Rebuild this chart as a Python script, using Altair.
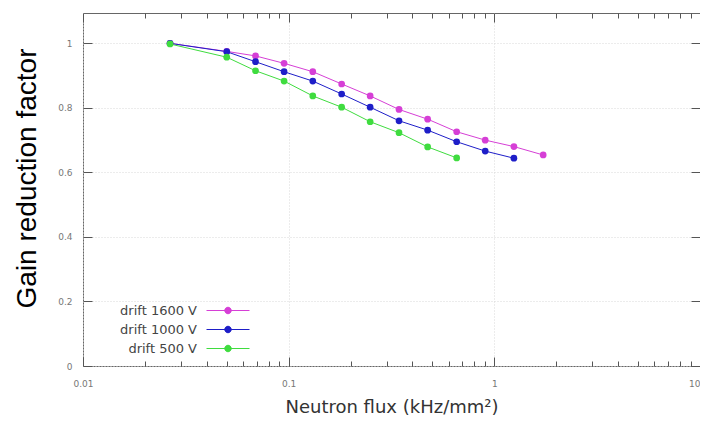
import altair as alt
import pandas as pd

series_names = ["drift 1600 V", "drift 1000 V", "drift 500 V"]
series_colors = ["#d63fd6", "#1e1ec8", "#3fdc3f"]

flux_1600 = [0.0265, 0.050, 0.069, 0.095, 0.131, 0.181, 0.249, 0.344, 0.474, 0.656, 0.903, 1.245, 1.728]
gain_1600 = [1.0, 0.975, 0.961, 0.938, 0.912, 0.874, 0.837, 0.795, 0.765, 0.726, 0.700, 0.680, 0.654]

flux_1000 = [0.0265, 0.050, 0.069, 0.095, 0.131, 0.181, 0.249, 0.344, 0.474, 0.656, 0.903, 1.245]
gain_1000 = [1.0, 0.974, 0.943, 0.912, 0.883, 0.843, 0.802, 0.760, 0.731, 0.695, 0.666, 0.644]

flux_500 = [0.0265, 0.050, 0.069, 0.095, 0.131, 0.181, 0.249, 0.344, 0.474, 0.656]
gain_500 = [0.998, 0.957, 0.915, 0.883, 0.837, 0.802, 0.757, 0.723, 0.679, 0.645]

x_major = [0.01, 0.1, 1, 10]
x_minor = [m * d for d in (0.01, 0.1, 1) for m in range(2, 10)]
y_major = [0, 0.2, 0.4, 0.6, 0.8, 1.0]

rows = []
for name, xs, ys in [(series_names[0], flux_1600, gain_1600),
                     (series_names[1], flux_1000, gain_1000),
                     (series_names[2], flux_500, gain_500)]:
    for xv, yv in zip(xs, ys):
        rows.append({"flux": xv, "gain": yv, "series": name})
df = pd.DataFrame(rows)

xscale = alt.Scale(type="log", domain=[0.01, 10], nice=False)
yscale = alt.Scale(domain=[0, 1.094], nice=False, zero=False)
cscale = alt.Scale(domain=series_names, range=series_colors)

TICK = "#555555"
LAB = "#777777"

# legend sample: a short line with a dot, drawn to the right of the label
sym_path = "M3.2,0L11.8,0M8.15,0A0.65,0.65,0,1,1,6.85,0A0.65,0.65,0,1,1,8.15,0Z"

legend = alt.Legend(
    title=None, orient="none", legendX=101, legendY=291,
    symbolType=sym_path, symbolSize=100, symbolStrokeWidth=1,
    symbolOffset=0, labelOffset=0,
    labelAlign="right", labelFont="DejaVu Sans",
    labelFontSize=13, labelColor="#444444", padding=0, rowPadding=5,
    symbolOpacity=1,
)

x_label_axis = alt.Axis(
    values=x_major, format="~g", ticks=False, tickSize=0, domain=False,
    grid=True, gridColor="#d8d8d8", gridDash=[1, 2], labelFlush=False,
    labelAlign=alt.condition("datum.value >= 10", alt.value("right"), alt.value("center")),
    labelFont="DejaVu Sans", labelFontSize=9, labelColor=LAB, labelPadding=13,
    title="Neutron flux (kHz/mm²)", titleFont="DejaVu Sans", titleFontSize=18,
    titleFontWeight="normal", titleColor="#333333",
    titleBaseline="alphabetic", titleY=46,
)
y_label_axis = alt.Axis(
    values=y_major, format="~g", ticks=False, tickSize=0, domain=False,
    grid=True, gridColor="#d8d8d8", gridDash=[1, 2], labelFlush=False,
    labelFont="DejaVu Sans", labelFontSize=9, labelColor=LAB, labelPadding=11,
    title="Gain reduction factor", titleFont="Liberation Sans", titleFontSize=28,
    titleFontWeight="normal", titleColor="#000000",
    titleBaseline="alphabetic", titleX=-48, titleY=165,
)

lines = alt.Chart(df).mark_line(strokeWidth=1).encode(
    x=alt.X("flux:Q", scale=xscale, axis=x_label_axis),
    y=alt.Y("gain:Q", scale=yscale, axis=y_label_axis),
    color=alt.Color("series:N", scale=cscale, legend=legend),
    detail="series:N",
)

points = alt.Chart(df).mark_point(filled=True, size=45, opacity=1, shape="circle").encode(
    x=alt.X("flux:Q", scale=xscale, axis=None),
    y=alt.Y("gain:Q", scale=yscale, axis=None),
    color=alt.Color("series:N", scale=cscale, legend=legend),
)

def tick_axis(orient, vals, size):
    return alt.Axis(orient=orient, values=vals, labels=False, domain=False, grid=False,
                    ticks=True, tickSize=size, offset=-size, tickColor=TICK,
                    tickWidth=1, title=None)

carriers = []
for orient, vals, size in [("bottom", x_major, 9), ("bottom", x_minor, 5),
                           ("top", x_major, 9), ("top", x_minor, 5)]:
    carriers.append(alt.Chart(df).mark_point(opacity=0).encode(
        x=alt.X("flux:Q", scale=xscale, axis=tick_axis(orient, vals, size)),
        y=alt.Y("gain:Q", scale=yscale, axis=None),
    ))
for orient in ["left", "right"]:
    carriers.append(alt.Chart(df).mark_point(opacity=0).encode(
        x=alt.X("flux:Q", scale=xscale, axis=None),
        y=alt.Y("gain:Q", scale=yscale, axis=tick_axis(orient, y_major, 9)),
    ))

chart = alt.layer(*carriers, lines, points).resolve_axis(
    x="independent", y="independent"
).properties(
    width=617, height=353,
    autosize=alt.AutoSizeParams(type="none"),
    padding={"left": 75, "top": 5, "right": 0, "bottom": 50},
    background="white",
).configure_view(stroke="#666666", strokeWidth=1)

chart.save("out.html", embed_options={"renderer": "svg", "actions": False})
